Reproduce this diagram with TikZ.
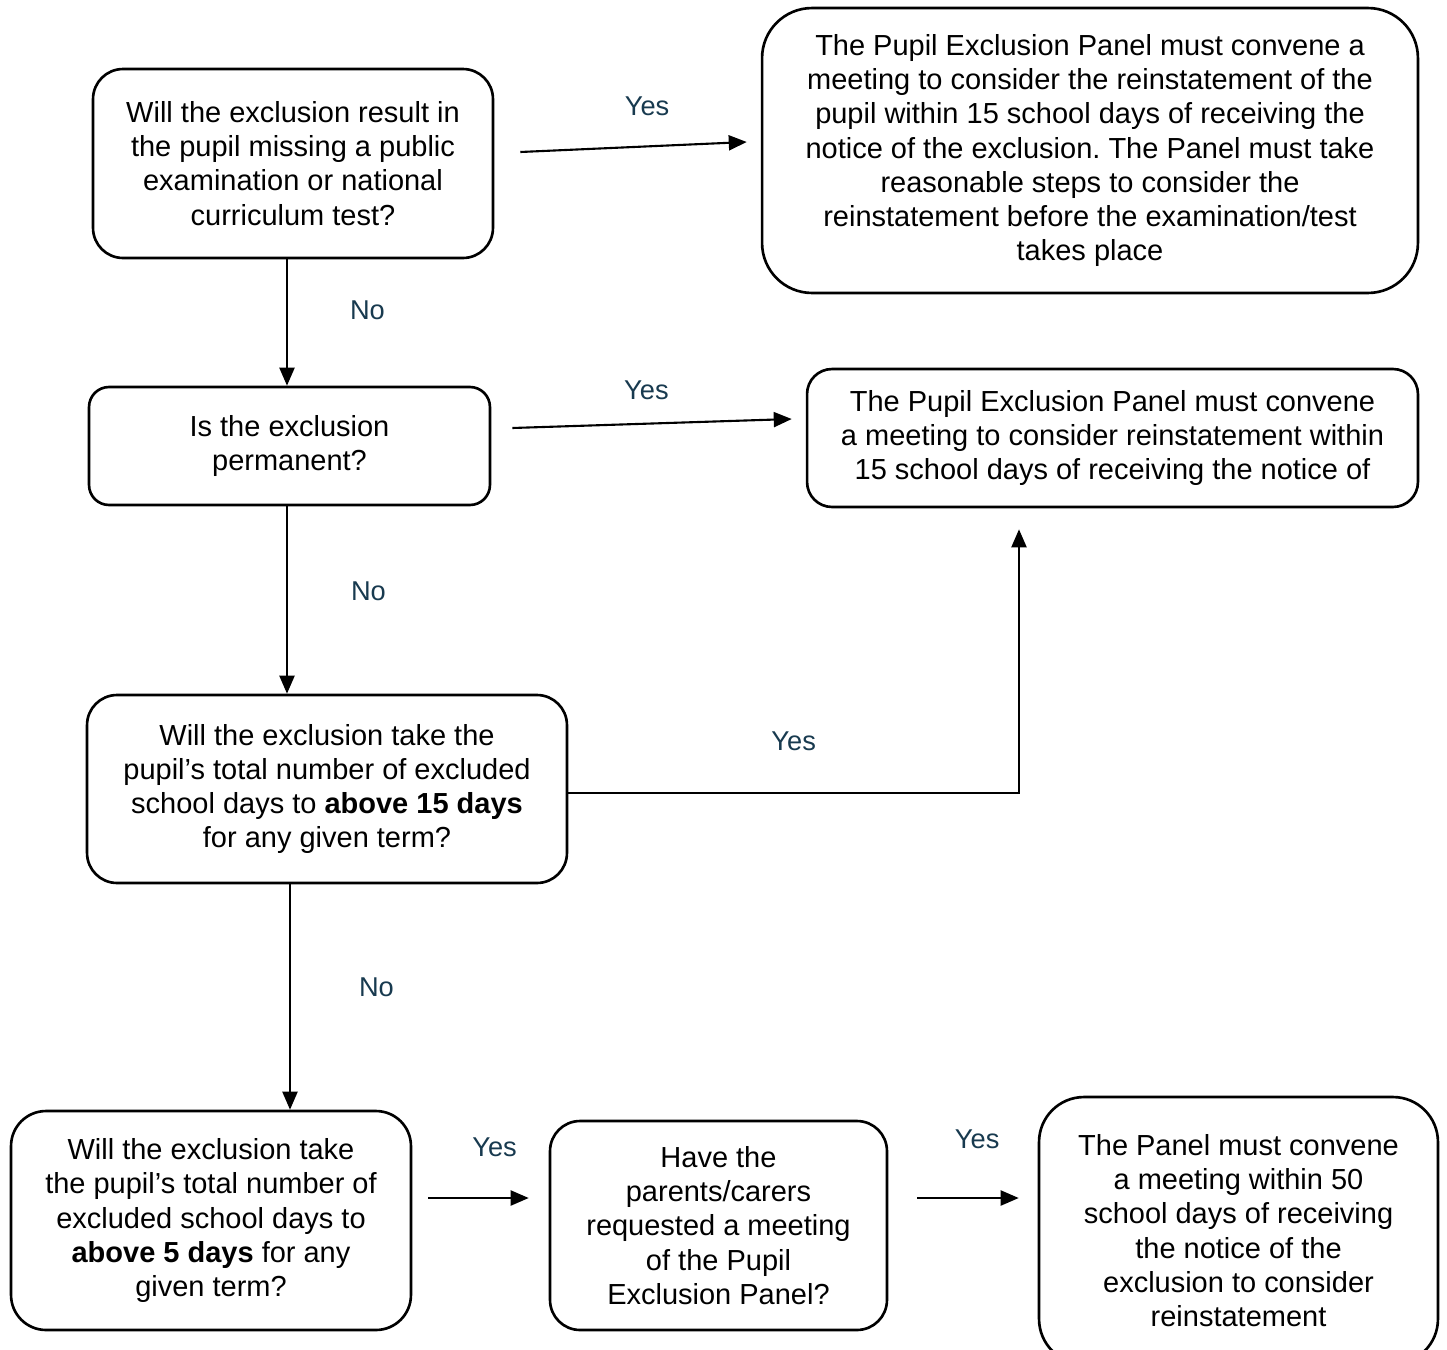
\documentclass[tikz,border=0pt]{standalone}
\usepackage{fontspec}
\setmainfont{Liberation Sans}
\usetikzlibrary{arrows.meta,positioning,calc}
\definecolor{lblblue}{RGB}{24,58,79}
\frenchspacing

\begin{document}
\begin{tikzpicture}[x=0.02cm, y=-0.02cm,
  box/.style={draw, line width=1.5pt, align=center, inner sep=0pt, font=\fontsize{16.5}{19.5}\selectfont},
  arr/.style={-{Triangle[length=0.36cm,width=0.3cm]}, line width=1.2pt},
  lbl/.style={text=lblblue, inner sep=0pt, font=\fontsize{15.5}{18}\selectfont}]
\useasboundingbox (0,0) rectangle (1447,1349);

\node[box, rounded corners=0.6cm, minimum width=8cm, minimum height=3.78cm] (examq) at (293,163.5) {Will the exclusion result in\\the pupil missing a public\\examination or national\\curriculum test?};
\node[box, rounded corners=1cm, minimum width=13.12cm, minimum height=5.7cm] (examres) at (1090,150.5) {The Pupil Exclusion Panel must convene a\\meeting to consider the reinstatement of the\\pupil within 15 school days of receiving the\\notice of the exclusion. The Panel must take\\reasonable steps to consider the\\reinstatement before the examination/test\\takes place};
\node[box, rounded corners=0.4cm, minimum width=8.02cm, minimum height=2.36cm] (permq) at (289.5,446) {Is the exclusion\\permanent?};
\node[box, rounded corners=0.5cm, minimum width=12.22cm, minimum height=2.76cm] (permres) at (1112.5,438) {The Pupil Exclusion Panel must convene\\a meeting to consider reinstatement within\\15 school days of receiving the notice of};
\node[box, rounded corners=0.6cm, minimum width=9.6cm, minimum height=3.76cm] (over15q) at (327,789) {Will the exclusion take the\\pupil’s total number of excluded\\school days to \textbf{above 15 days}\\for any given term?};
\node[box, rounded corners=0.7cm, minimum width=8cm, minimum height=4.38cm] (over5q) at (211,1220.5) {Will the exclusion take\\the pupil’s total number of\\excluded school days to\\\textbf{above 5 days} for any\\given term?};
\node[box, rounded corners=0.6cm, minimum width=6.74cm, minimum height=4.18cm] (parentq) at (718.5,1225.5) {Have the\\parents/carers\\requested a meeting\\of the Pupil\\Exclusion Panel?};
\node[box, rounded corners=0.9cm, minimum width=7.98cm, minimum height=5.34cm] (meetres) at (1238.5,1230.5) {The Panel must convene\\a meeting within 50\\school days of receiving\\the notice of the\\exclusion to consider\\reinstatement};

% yes branches
\draw[arr] ($(examq.east)+(26,-11.5)$) -- node[lbl, pos=0.56, above=0.6cm] {Yes} ($(examres.west)+(-14,-8.5)$);
\draw[arr] ($(permq.east)+(21,-18)$) -- node[lbl, pos=0.48, above=0.45cm] {Yes} ($(permres.west)+(-14,-19)$);
\draw[arr] ($(over15q.east)+(0,4)$) -| node[lbl, pos=0.25, above=0.82cm] {Yes} ($(permres.south)+(-93.5,21)$);
\draw[arr] ($(over5q.east)+(16,-22.5)$) -- node[lbl, pos=0.66, above=0.8cm] {Yes} ($(parentq.west)+(-20,-27.5)$);
\draw[arr] ($(parentq.east)+(29,-27.5)$) -- node[lbl, pos=0.59, above=0.96cm] {Yes} ($(meetres.west)+(-19,-32.5)$);

% no branches
\draw[arr] ($(examq.south)+(-6,0)$) coordinate (n1) -- node[lbl, pos=0.4, right=1.24cm] {No} (n1 |- permq.north);
\draw[arr] ($(permq.south)+(-2.5,0)$) coordinate (n2) -- node[lbl, pos=0.455, right=1.26cm] {No} (n2 |- over15q.north);
\draw[arr] ($(over15q.south)+(-37,0)$) coordinate (n3) -- node[lbl, pos=0.456, right=1.36cm] {No} (n3 |- over5q.north);

\end{tikzpicture}
\end{document}
